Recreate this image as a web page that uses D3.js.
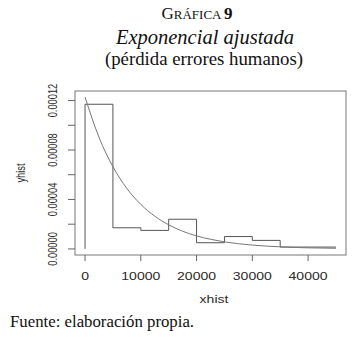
<!DOCTYPE html>
<html>
<head>
<meta charset="utf-8">
<script src="https://cdn.jsdelivr.net/npm/d3@7"></script>
<style>
  body { margin: 0; background: #fff; }
  svg { display: block; }
  .ttl { font-family: "Liberation Serif", "Times New Roman", serif; fill: #111; }
  .ax { font-family: "Liberation Sans", Arial, sans-serif; fill: #2a2a2a; }
</style>
</head>
<body>
<div id="chart"></div>
<script>
// Histogram breaks and densities
const binEdges = [0, 5000, 10000, 15000, 20000, 25000, 30000, 35000, 40000, 45000];
const density = [0.000117, 0.0000171, 0.000015, 0.000024, 0.000005, 0.00001, 0.0000069, 0.0000015, 0.0000015];

// fitted exponential curve
const curveX = [0, 2500, 5000, 7500, 10000, 12500, 15000, 17500, 20000, 22500,
                25000, 27500, 30000, 32500, 35000, 37500, 40000, 42500, 45000];
const curveY = [0.0001228, 0.0000903, 0.0000665, 0.0000489, 0.000036, 0.0000265,
                0.0000195, 0.0000143, 0.0000105, 0.0000078, 0.0000057, 0.0000042,
                0.0000031, 0.0000023, 0.0000017, 0.0000012, 0.0000009, 0.0000007, 0.0000005];

const xTicks = [0, 10000, 20000, 30000, 40000];
const yTicks = [0, 0.00002, 0.00004, 0.00006, 0.00008, 0.0001, 0.00012];
const yLabels = ["0.00000", "", "0.00004", "", "0.00008", "", "0.00012"];

const titleLines = ["Exponencial ajustada", "(pérdida errores humanos)"];
const source = "Fuente: elaboración propia.";

const width = 360, height = 337;
const box = { left: 75, right: 346, top: 91, bottom: 255 };
const sx = 1.3; // plot text is stretched sideways in the original

let svg = d3.select("#chart").append("svg")
   .attr("width", width)
   .attr("height", height);

// R style 4% padding on both axes
let xMin = d3.min(binEdges), xMax = d3.max(binEdges);
let yMin = 0, yMax = d3.max(density.concat(curveY));
let xPad = (xMax - xMin) * 0.04, yPad = (yMax - yMin) * 0.04;

let x = d3.scaleLinear()
   .domain([xMin - xPad, xMax + xPad])
   .range([box.left, box.right]);
let y = d3.scaleLinear()
   .domain([yMin - yPad, yMax + yPad])
   .range([box.bottom, box.top]);

// Title block
let t1 = svg.append("text").attr("class", "ttl")
   .attr("x", 197).attr("y", 19)
   .attr("text-anchor", "middle")
   .style("font-size", "17px");
t1.append("tspan").text("G");
t1.append("tspan").style("font-size", "13px").text("RÁFICA ");
t1.append("tspan").style("font-weight", "bold").text("9");

svg.append("text").attr("class", "ttl")
   .attr("x", 205).attr("y", 43.5)
   .attr("text-anchor", "middle")
   .style("font-size", "20.5px")
   .style("font-style", "italic")
   .text(titleLines[0]);

svg.append("text").attr("class", "ttl")
   .attr("x", 204).attr("y", 65)
   .attr("text-anchor", "middle")
   .style("font-size", "18.8px")
   .text(titleLines[1]);

// plot box
svg.append("rect")
   .attr("x", box.left).attr("y", box.top)
   .attr("width", box.right - box.left)
   .attr("height", box.bottom - box.top)
   .attr("fill", "none")
   .attr("stroke", "#777")
   .attr("stroke-width", 1);

// x axis ticks and labels
svg.selectAll(".xtick")
   .data(xTicks)
   .enter()
   .append("line")
      .attr("x1", d => x(d)).attr("x2", d => x(d))
      .attr("y1", box.bottom).attr("y2", box.bottom + 6)
      .attr("stroke", "#666");
svg.selectAll(".xlab")
   .data(xTicks)
   .enter()
   .append("text")
      .attr("class", "ax")
      .attr("text-anchor", "middle")
      .attr("transform", d => "translate(" + x(d) + ",280) scale(" + sx + ",1)")
      .style("font-size", "10.8px")
      .text(d => d);

svg.append("text").attr("class", "ax")
   .attr("text-anchor", "middle")
   .attr("transform", "translate(214,302.5) scale(" + sx + ",1)")
   .style("font-size", "10.8px")
   .text("xhist");

// y axis ticks and labels
svg.selectAll(".ytick")
   .data(yTicks)
   .enter()
   .append("line")
      .attr("x1", box.left - 7).attr("x2", box.left)
      .attr("y1", d => y(d)).attr("y2", d => y(d))
      .attr("stroke", "#666");
svg.selectAll(".ylab")
   .data(yTicks.map((d, i) => [d, yLabels[i]]).filter(d => d[1] !== ""))
   .enter()
   .append("text")
      .attr("class", "ax")
      .attr("text-anchor", "middle")
      .attr("transform", d => "translate(56.5," + y(d[0]) + ") scale(" + sx + ",1) rotate(-90)")
      .style("font-size", "9.3px")
      .text(d => d[1]);

svg.append("text").attr("class", "ax")
   .attr("text-anchor", "middle")
   .attr("transform", "translate(24.5," + ((box.top + box.bottom) / 2) + ") scale(" + sx + ",1) rotate(-90)")
   .style("font-size", "9.3px")
   .text("yhist");

// histogram drawn as a step line starting from zero
let stepPts = [[binEdges[0], 0]]
   .concat(density.map((d, i) => [binEdges[i], d]))
   .concat([[binEdges[binEdges.length - 1], density[density.length - 1]]]);

let step = d3.line()
   .x(d => x(d[0]))
   .y(d => y(d[1]))
   .curve(d3.curveStepAfter);

svg.append("path")
   .datum(stepPts)
   .attr("d", step)
   .attr("fill", "none")
   .attr("stroke", "#555")
   .attr("stroke-width", 1);

// fitted exponential density
let fit = d3.line()
   .x((d, i) => x(curveX[i]))
   .y(d => y(d))
   .curve(d3.curveMonotoneX);

svg.append("path")
   .datum(curveY)
   .attr("d", fit)
   .attr("fill", "none")
   .attr("stroke", "#777")
   .attr("stroke-width", 1);

// source note
svg.append("text").attr("class", "ttl")
   .attr("x", 10).attr("y", 327)
   .style("font-size", "16.8px")
   .text(source);
</script>
</body>
</html>
